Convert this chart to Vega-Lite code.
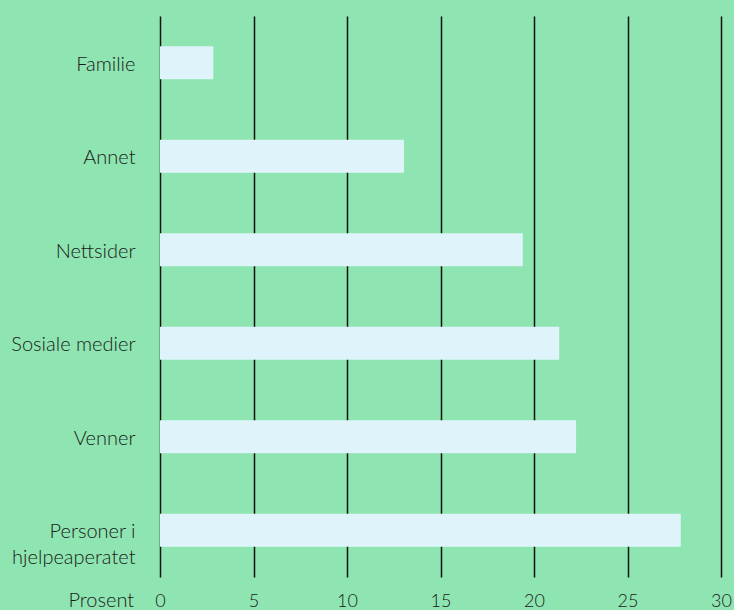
{
  "$schema": "https://vega.github.io/schema/vega-lite/v6.json",
  "width": 561,
  "height": 561,
  "autosize": "none",
  "padding": {"left": 160, "top": 16, "right": 13, "bottom": 33},
  "background": "#8ee5b1",
  "config": {
    "view": {"stroke": null},
    "font": "Lato"
  },
  "data": {
    "values": [
      {"kategori": "Familie", "prosent": 2.85},
      {"kategori": "Annet", "prosent": 13.05},
      {"kategori": "Nettsider", "prosent": 19.4},
      {"kategori": "Sosiale medier", "prosent": 21.35},
      {"kategori": "Venner", "prosent": 22.25},
      {"kategori": "Personer i hjelpeaperatet", "prosent": 27.85}
    ]
  },
  "mark": {"type": "bar", "color": "#dff3fa"},
  "encoding": {
    "y": {
      "field": "kategori",
      "type": "nominal",
      "sort": null,
      "scale": {"paddingInner": 0.647, "paddingOuter": 0.3235},
      "axis": {
        "title": null,
        "domain": false,
        "ticks": false,
        "tickSize": 0,
        "grid": false,
        "labelPadding": 25,
        "labelFontSize": 20,
        "labelFontWeight": 300,
        "labelColor": "#1a1a1a",
        "labelLineHeight": 26,
        "labelOffset": 2,
        "labelExpr": "datum.label == 'Personer i hjelpeaperatet' ? ['Personer i', 'hjelpeaperatet'] : datum.label"
      }
    },
    "x": {
      "field": "prosent",
      "type": "quantitative",
      "scale": {"domain": [0, 30], "nice": false},
      "axis": {
        "values": [0, 5, 10, 15, 20, 25, 30],
        "title": "Prosent",
        "titleFontSize": 20,
        "titleFontWeight": 300,
        "titleColor": "#1a1a1a",
        "titleAnchor": "start",
        "titleAlign": "left",
        "titleBaseline": "alphabetic",
        "titleX": -92,
        "titleY": 29,
        "domain": false,
        "ticks": false,
        "tickSize": 0,
        "grid": true,
        "gridColor": "#111111",
        "gridWidth": 1.5,
        "gridOpacity": 1,
        "labelFontSize": 18,
        "labelFontWeight": 300,
        "labelColor": "#1a1a1a",
        "labelBaseline": "alphabetic",
        "labelPadding": 29,
        "labelFlush": false
      }
    }
  }
}
